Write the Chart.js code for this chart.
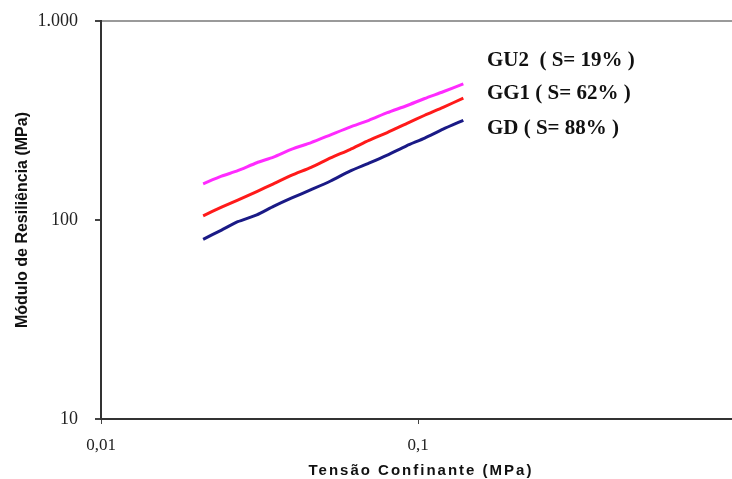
<!DOCTYPE html>
<html>
<head>
<meta charset="utf-8">
<script src="https://cdn.jsdelivr.net/npm/chart.js@4/dist/chart.umd.min.js"></script>
<style>
  html, body { margin: 0; padding: 0; background: #fff; overflow: hidden; }
  #wrap { width: 760px; height: 479px; }
  canvas { display: block; }
</style>
</head>
<body>
<div id="wrap"><canvas id="grafico" width="760" height="479"></canvas></div>
<script>
// tensao confinante (MPa) e modulo de resiliencia (MPa)
const tensao = [0.021, 0.024, 0.027, 0.031, 0.035, 0.040, 0.046, 0.053, 0.061, 0.070, 0.080, 0.092, 0.105, 0.120, 0.139]
const moduloGU2 = [152, 166, 177, 194, 207, 227, 245, 268, 293, 317, 346, 375, 408, 441, 483]
const moduloGG1 = [105, 116, 126, 139, 152, 168, 184, 205, 226, 251, 275, 305, 336, 368, 410]
const moduloGD = [80, 89, 98, 106, 117, 129, 142, 157, 176, 193, 212, 236, 258, 286, 317]

const nomes = ['GU2  ( S= 19% )', 'GG1 ( S= 62% )', 'GD ( S= 88% )']
const cores = ['#ff2bff', '#ff1a1a', '#1a1a86']
const ticksX = [0.01, 0.1, 1]
const ticksY = [10, 100, 1000]

function pontos(valores) {
  return tensao.map((t, i) => ({ x: t, y: valores[i] }))
}

// rotulos das curvas e titulos dos eixos
const textos = {
  id: 'textos',
  afterDraw(chart) {
    const { ctx, chartArea, scales } = chart
    ctx.save()
    ctx.fillStyle = '#111'
    ctx.textBaseline = 'middle'
    ctx.textAlign = 'left'
    ctx.font = 'bold 21px "Liberation Serif", "Times New Roman", serif'
    const rotY = [633, 433, 289]
    nomes.forEach((nome, i) => {
      ctx.fillText(nome, scales.x.getPixelForValue(0.165), scales.y.getPixelForValue(rotY[i]))
    })

    ctx.textAlign = 'center'
    ctx.font = 'bold 15px "Liberation Sans", Arial, sans-serif'
    ctx.letterSpacing = '2px'
    ctx.fillText('Tensão Confinante (MPa)', (chartArea.left + chartArea.right) / 2 + 3, 471)
    ctx.letterSpacing = '0px'

    ctx.translate(23, (chartArea.top + chartArea.bottom) / 2)
    ctx.rotate(-Math.PI / 2)
    ctx.font = 'bold 16px "Liberation Sans", Arial, sans-serif'
    ctx.fillText('Módulo de Resiliência (MPa)', 0, 0)
    ctx.restore()
  }
}

// eslint-disable-next-line no-undef
new Chart(document.getElementById('grafico'), {
  type: 'line',
  data: {
    datasets: [
      { label: nomes[0], data: pontos(moduloGU2), borderColor: cores[0] },
      { label: nomes[1], data: pontos(moduloGG1), borderColor: cores[1] },
      { label: nomes[2], data: pontos(moduloGD), borderColor: cores[2] }
    ]
  },
  options: {
    responsive: false,
    animation: false,
    layout: { padding: { top: 21, right: 25, left: 0, bottom: 0 } },
    elements: {
      point: { radius: 0 },
      line: { borderWidth: 3, tension: 0.2 }
    },
    plugins: {
      legend: { display: false },
      tooltip: { enabled: false }
    },
    scales: {
      x: {
        type: 'logarithmic',
        min: 0.01,
        max: 1,
        afterBuildTicks: scale => { scale.ticks = ticksX.map(v => ({ value: v })) },
        afterFit: scale => { scale.height = 60 },
        border: { color: '#333', width: 2 },
        grid: { color: 'transparent', tickColor: '#444', tickLength: 5 },
        ticks: {
          color: '#222',
          padding: 11,
          maxRotation: 0,
          font: { family: '"Liberation Serif", "Times New Roman", serif', size: 17 },
          callback: v => String(v).replace('.', ',')
        }
      },
      y: {
        type: 'logarithmic',
        min: 10,
        max: 1000,
        afterBuildTicks: scale => { scale.ticks = ticksY.map(v => ({ value: v })) },
        afterFit: scale => {
          scale.width = 101
          scale.paddingTop = 0
          scale.paddingBottom = 0
        },
        border: { color: '#333', width: 2 },
        grid: {
          color: c => (c.tick && c.tick.value === 1000 ? '#9a9a9a' : 'transparent'),
          lineWidth: 2,
          tickColor: '#444',
          tickLength: 6
        },
        ticks: {
          color: '#222',
          padding: 17,
          font: { family: '"Liberation Serif", "Times New Roman", serif', size: 18 },
          callback: v => (v === 1000 ? '1.000' : String(v))
        }
      }
    }
  },
  plugins: [textos]
})
</script>
</body>
</html>
